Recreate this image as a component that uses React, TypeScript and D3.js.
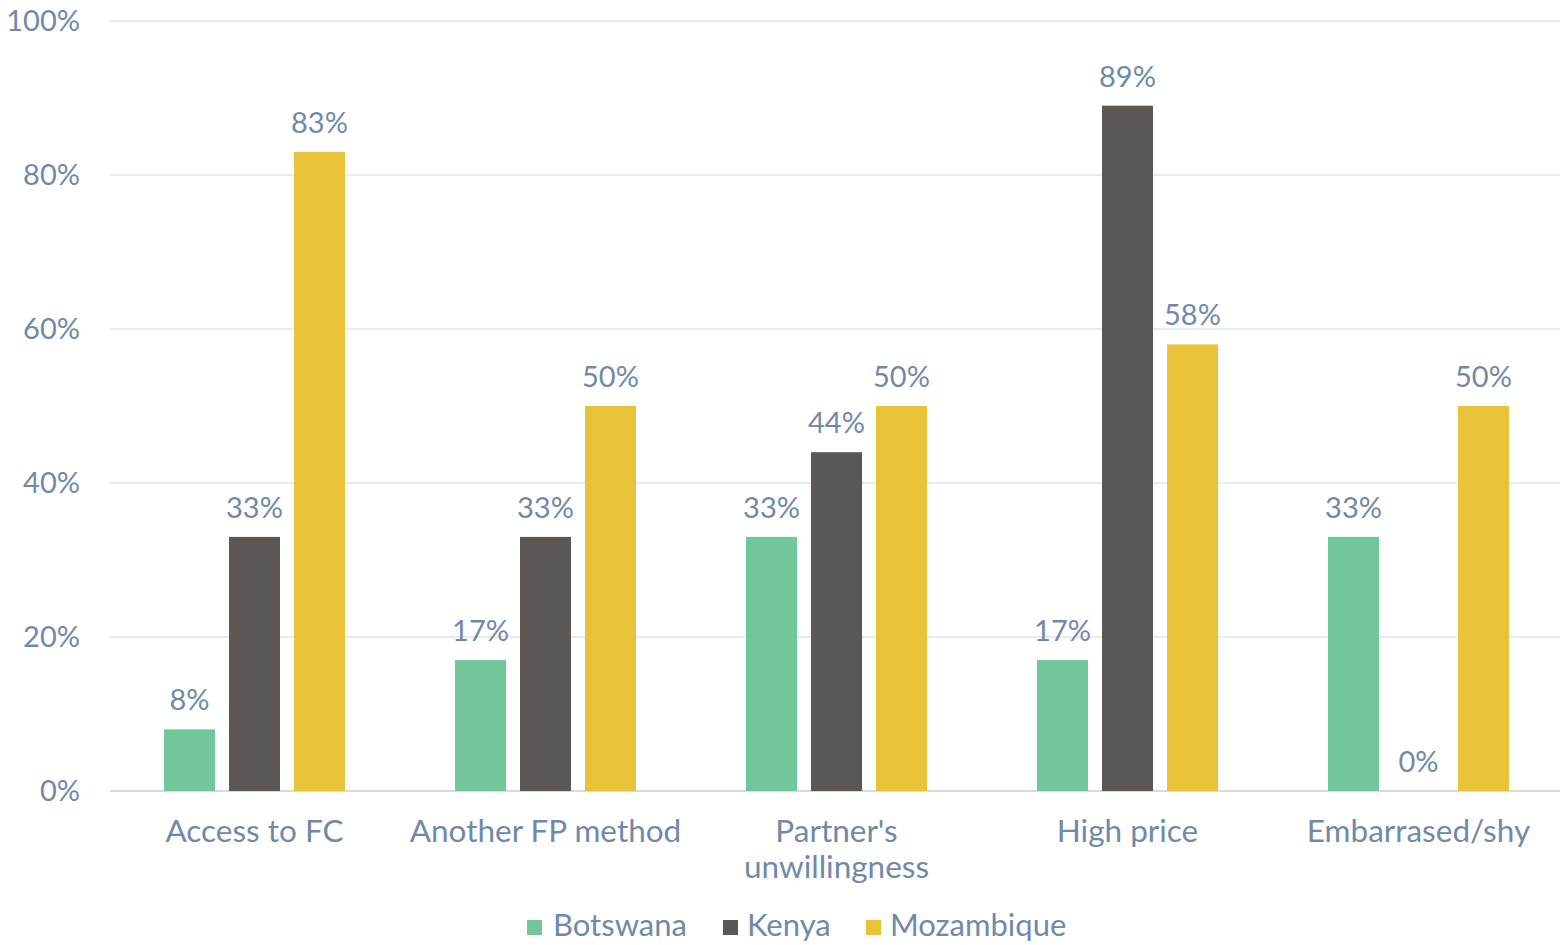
import React from "react";
import * as d3 from "d3";

const categories = ["Access to FC", "Another FP method", "Partner's\nunwillingness", "High price", "Embarrased/shy"];
const series = ["Botswana", "Kenya", "Mozambique"];
const botswana = [8, 17, 33, 17, 33];
const kenya = [33, 33, 44, 89, 0];
const mozambique = [83, 50, 50, 58, 50];
const yTicks = [0, 20, 40, 60, 80, 100];
const colors = ["#71C69A", "#5B5754", "#E8C238"];

const W = 1560, H = 945;
const TEXT = "#7189A8";
const FONT = "Lato, 'Open Sans', sans-serif";

export default function App() {
  const values = [botswana, kenya, mozambique];
  const x0 = d3.scaleBand<string>().domain(categories).range([109, 1564]).padding(0);
  const groupW = 181;
  const x1 = d3.scaleBand<string>().domain(series).range([0, groupW]).paddingInner(14 / 65).paddingOuter(0);
  const y = d3.scaleLinear().domain([0, 100]).range([791, 21]);
  const off = (x0.bandwidth() - groupW) / 2;

  return (
    <svg width={W} height={H} style={{ position: "absolute", left: 0, top: 0 }} fontFamily={FONT}>
      <rect width={W} height={H} fill="#fff" />
      {yTicks.map((t) => (
        <g key={t}>
          <line x1={110} x2={1560} y1={y(t)} y2={y(t)} stroke={t === 0 ? "#D5DAE3" : "#E1E4EB"} strokeWidth={t === 0 ? 2 : 1.5} />
          <text x={80} y={y(t)} dy="0.36em" textAnchor="end" fontSize={29} fill={TEXT}>{t}%</text>
        </g>
      ))}
      {categories.map((c, ci) => (
        <g key={c} transform={`translate(${(x0(c) ?? 0) + off},0)`}>
          {series.map((s, si) => {
            const v = values[si][ci];
            const bx = x1(s) ?? 0;
            return (
              <g key={s}>
                <rect x={bx} y={y(v)} width={x1.bandwidth()} height={y(0) - y(v)} fill={colors[si]} />
                <text x={bx + x1.bandwidth() / 2} y={y(v) - 19} textAnchor="middle" fontSize={29} fill={TEXT}>{v}%</text>
              </g>
            );
          })}
        </g>
      ))}
      {categories.map((c) => {
        const lines = c.split("\n");
        const cx = (x0(c) ?? 0) + x0.bandwidth() / 2;
        return (
          <text key={c} x={cx} y={842} textAnchor="middle" fontSize={31.5} fill={TEXT}>
            {lines.map((l, i) => (
              <tspan key={i} x={cx} dy={i === 0 ? 0 : 36}>{l}</tspan>
            ))}
          </text>
        );
      })}
      {[
        { s: series[0], sx: 527, tx: 553 },
        { s: series[1], sx: 723, tx: 747 },
        { s: series[2], sx: 866, tx: 890 },
      ].map((l, i) => (
        <g key={l.s}>
          <rect x={l.sx} y={920} width={15} height={15} fill={colors[i]} />
          <text x={l.tx} y={936} fontSize={31} fill={TEXT}>{l.s}</text>
        </g>
      ))}
    </svg>
  );
}
